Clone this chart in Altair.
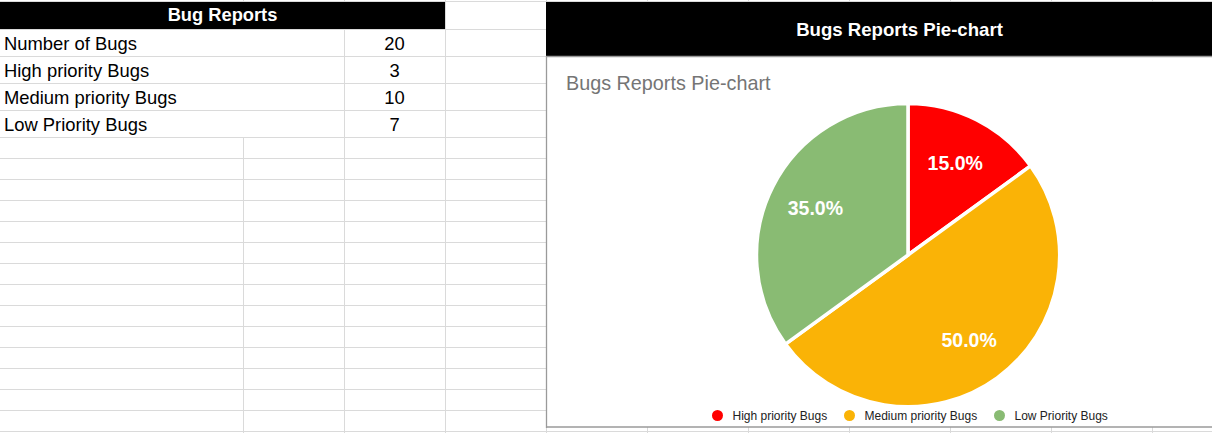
import altair as alt
import pandas as pd

# ---------------- data ----------------
table_title = "Bug Reports"
table_labels = ["Number of Bugs", "High priority Bugs", "Medium priority Bugs", "Low Priority Bugs"]
table_values = [20, 3, 10, 7]

chart_header = "Bugs Reports Pie-chart"
chart_title = "Bugs Reports Pie-chart"
categories = ["High priority Bugs", "Medium priority Bugs", "Low Priority Bugs"]
bug_counts = [3, 10, 7]
slice_colors = ["#FF0000", "#FAB306", "#89BB73"]

# ---------------- layout ----------------
W, H = 1212, 433
FONT = "Liberation Sans, Arial, sans-serif"
GRID = "#dadada"
BORDER = "#9a9a9a"
CX, CY, R = 908, 255, 151.5

grid_rows = []
for yy in [29, 56, 83, 110] + [137 + 21 * k for k in range(15)]:
    grid_rows.append(dict(x=0, x2=W, y=yy + 0.5, y2=yy + 0.5))
for xx in [344, 445, 546, 647, 748, 849, 950, 1051, 1152]:
    grid_rows.append(dict(x=xx + 0.5, x2=xx + 0.5, y=0, y2=H))
grid_rows.append(dict(x=243.5, x2=243.5, y=0, y2=2))
grid_rows.append(dict(x=243.5, x2=243.5, y=137, y2=H))
grid_rows.append(dict(x=0, x2=W, y=1.5, y2=1.5))
grid_df = pd.DataFrame(grid_rows)

blocks_df = pd.DataFrame([
    dict(x=0, x2=445, y=2, y2=29, c="#000000"),
    dict(x=546, x2=W, y=2, y2=56, c="#000000"),
    dict(x=546, x2=W, y=56, y2=427, c="#ffffff"),
])
border_df = pd.DataFrame([
    dict(x=546.5, x2=546.5, y=56, y2=428),
    dict(x=546, x2=W, y=427, y2=427),
    dict(x=546, x2=W, y=56.5, y2=56.5),
])


def rules(df, color, width=1):
    return alt.Chart(df).mark_rule(color=color, strokeWidth=width).encode(
        x=alt.X("x:Q", scale=None), x2="x2:Q",
        y=alt.Y("y:Q", scale=None), y2="y2:Q")


grid = rules(grid_df, GRID)
blocks = alt.Chart(blocks_df).mark_rect().encode(
    x=alt.X("x:Q", scale=None), x2="x2:Q",
    y=alt.Y("y:Q", scale=None), y2="y2:Q",
    color=alt.Color("c:N", scale=None))
border = rules(border_df, BORDER, 1.3)


def single_text(txt, x, y, **kw):
    return alt.Chart(pd.DataFrame({"t": [txt]})).mark_text(font=FONT, baseline="middle", **kw).encode(
        x=alt.value(x), y=alt.value(y), text="t:N")


head1 = single_text(table_title, 222.5, 16, fontSize=18.3, fontWeight="bold", color="white", align="center")
head2 = single_text(chart_header, 899.5, 29.5, fontSize=18.6, fontWeight="bold", color="white", align="center")
title = single_text(chart_title, 566, 84, fontSize=19.8, color="#757575", align="left")

table_df = pd.DataFrame({"label": table_labels, "value": table_values})
row_y = alt.Y("label:N", sort=table_labels,
              scale=alt.Scale(type="point", domain=table_labels, range=[30.5, 138.5], padding=0.5),
              axis=None)
t_labels = alt.Chart(table_df).mark_text(font=FONT, fontSize=18.4, color="#000000",
                                         align="left", baseline="middle").encode(
    x=alt.value(4), y=row_y, text="label:N")
t_values = alt.Chart(table_df).mark_text(font=FONT, fontSize=18.4, color="#000000",
                                         align="center", baseline="middle").encode(
    x=alt.value(394.5), y=row_y, text="value:Q")

pie_df = pd.DataFrame({"category": categories, "count": bug_counts, "order": list(range(len(categories)))})
pie_base = alt.Chart(pie_df).transform_joinaggregate(total="sum(count)").transform_calculate(
    pct="datum.count / datum.total")
arcs = pie_base.mark_arc(outerRadius=R, stroke="white", strokeWidth=3.5).encode(
    theta=alt.Theta("count:Q", stack=True),
    order=alt.Order("order:Q"),
    color=alt.Color("category:N", sort=categories,
                    scale=alt.Scale(domain=categories, range=slice_colors),
                    legend=alt.Legend(orient="none", legendX=711.5, legendY=409.5,
                                      direction="horizontal", title=None,
                                      symbolType="circle", symbolSize=121,
                                      symbolStrokeWidth=0, labelFont=FONT,
                                      labelFontSize=12, labelColor="#222222",
                                      labelOffset=9, columnPadding=16, padding=0)),
    x=alt.value(CX), y=alt.value(CY))
pct_labels = pie_base.mark_text(radius=104, font=FONT, fontSize=19.5, fontWeight="bold",
                                color="white", baseline="middle", align="center").encode(
    theta=alt.Theta("count:Q", stack=True),
    order=alt.Order("order:Q"),
    text=alt.Text("pct:Q", format=".1%"),
    x=alt.value(CX), y=alt.value(CY + 1.5))

chart = alt.layer(
    grid, blocks, border, head1, head2, title, t_labels, t_values, arcs, pct_labels
).resolve_scale(x="independent", y="independent").properties(
    width=W, height=H, padding=0, autosize="none", background="white"
).configure_view(stroke=None)

chart.save("out.html", embed_options={"renderer": "svg", "actions": False})
